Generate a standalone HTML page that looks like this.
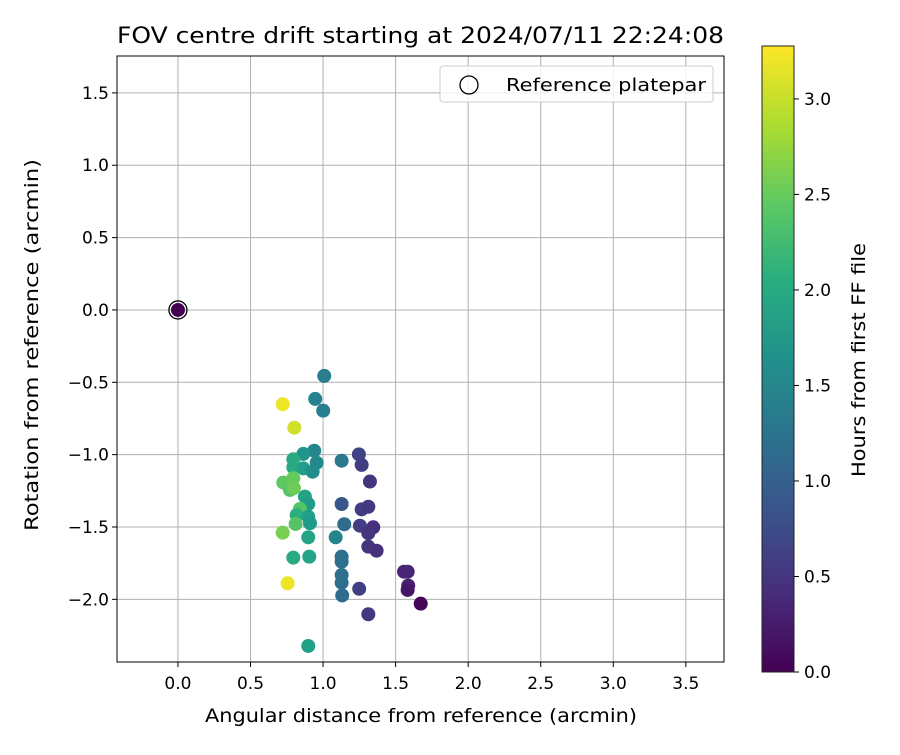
<!DOCTYPE html>
<html><head><meta charset="utf-8"><style>
body{margin:0;background:#fff;font-family:"Liberation Sans","DejaVu Sans",sans-serif}
text{font-family:"DejaVu Sans","Liberation Sans",sans-serif}
</style></head><body>
<svg id="chart" width="900" height="750" xmlns="http://www.w3.org/2000/svg">
<defs><linearGradient id="vir" x1="0" y1="1" x2="0" y2="0">
<stop offset="0" stop-color="#440154"/><stop offset="0.125" stop-color="#472d7b"/><stop offset="0.25" stop-color="#3b528b"/><stop offset="0.375" stop-color="#2c728e"/><stop offset="0.5" stop-color="#21918c"/><stop offset="0.625" stop-color="#28ae80"/><stop offset="0.75" stop-color="#5ec962"/><stop offset="0.875" stop-color="#addc30"/><stop offset="1" stop-color="#fde725"/>
</linearGradient></defs>
<g id="grid"></g>
<g id="pts"></g>
<g id="axes"></g>
</svg>
<script>
const xVals=[1.008,0.946,1.001,0.722,0.802,0.939,0.864,0.795,0.956,0.795,0.864,0.928,1.128,1.247,1.266,1.323,0.726,0.795,0.772,0.799,0.875,0.898,0.841,0.818,0.898,0.910,0.811,1.128,1.266,1.312,1.146,1.254,1.346,1.312,0.722,0.898,1.087,1.312,1.369,0.795,0.905,1.128,1.128,1.558,1.583,1.587,1.583,0.756,1.128,1.128,1.249,1.132,1.673,1.312,0.898];
const yVals=[-0.456,-0.615,-0.696,-0.652,-0.814,-0.973,-0.995,-1.032,-1.056,-1.088,-1.095,-1.118,-1.042,-0.998,-1.071,-1.186,-1.193,-1.163,-1.244,-1.230,-1.290,-1.341,-1.375,-1.417,-1.429,-1.474,-1.479,-1.341,-1.378,-1.360,-1.481,-1.491,-1.502,-1.543,-1.539,-1.571,-1.571,-1.636,-1.664,-1.712,-1.705,-1.705,-1.740,-1.809,-1.809,-1.905,-1.935,-1.889,-1.832,-1.885,-1.927,-1.973,-2.030,-2.103,-2.322];
const hours=[1.4,1.45,1.4,3.2,3.05,1.5,1.7,2.0,1.55,2.0,1.85,1.6,1.35,0.65,0.6,0.5,2.45,2.5,2.4,2.55,1.9,1.8,2.4,2.05,1.85,1.8,2.4,0.9,0.6,0.55,1.15,0.6,0.45,0.5,2.6,1.9,1.5,0.5,0.45,2.0,1.9,1.2,1.2,0.35,0.35,0.3,0.2,3.2,1.2,1.2,0.6,1.15,0.05,0.55,1.85];
const xTicks=[0,0.5,1,1.5,2,2.5,3,3.5];
const yTicks=[1.5,1,0.5,0,-0.5,-1,-1.5,-2];
const cTicks=[0,0.5,1,1.5,2,2.5,3];
const X0=117,X1=724,Y0=56,Y1=662,xmin=-0.42,xmax=3.763,ymin=-2.433,ymax=1.755;
const CB={x:762,w:32,top:46,bot:672,max:3.277};
const sx=v=>X0+(v-xmin)/(xmax-xmin)*(X1-X0);
const sy=v=>Y1-(v-ymin)/(ymax-ymin)*(Y1-Y0);
const cy=v=>CB.bot-v/CB.max*(CB.bot-CB.top);
const vir=[[68,1,84],[72,40,120],[62,74,137],[49,104,142],[38,130,142],[31,158,137],[53,183,121],[109,205,89],[180,222,44],[253,231,37]];
function cmap(h){let t=Math.max(0,Math.min(1,h/CB.max))*9;let i=Math.min(8,Math.floor(t)),f=t-i;
const c=vir[i].map((a,k)=>Math.round(a+(vir[i+1][k]-a)*f));return `rgb(${c})`;}
const NS='http://www.w3.org/2000/svg';
function el(p,tag,at,txt){const e=document.createElementNS(NS,tag);for(const k in at)e.setAttribute(k,at[k]);if(txt!==undefined)e.textContent=txt;p.appendChild(e);return e;}
const grid=document.getElementById('grid'),pts=document.getElementById('pts'),ax=document.getElementById('axes');
xTicks.forEach(v=>{const x=sx(v);
const g=el(grid,'line',{x1:x,x2:x,y1:Y0,y2:Y1,stroke:'#b0b0b0','stroke-width':1});

el(ax,'line',{x1:x,x2:x,y1:Y1,y2:Y1+5,stroke:'#000'});
const t=el(ax,'text',{x:x,y:Y1+27,'font-size':17,'text-anchor':'middle'},v.toFixed(1));
});
yTicks.forEach(v=>{const y=sy(v);
const g=el(grid,'line',{x1:X0,x2:X1,y1:y,y2:y,stroke:'#b0b0b0','stroke-width':1});

el(ax,'line',{x1:X0-5,x2:X0,y1:y,y2:y,stroke:'#000'});
const t=el(ax,'text',{x:X0-8,y:y+6,'font-size':17,'text-anchor':'end'},(v<0?'\u2212':'')+Math.abs(v).toFixed(1));
});
const rp=el(pts,'circle',{cx:sx(0),cy:sy(0),r:7,fill:cmap(0)});

const rr=el(pts,'circle',{cx:sx(0),cy:sy(0),r:9,fill:'none',stroke:'#000','stroke-width':1.3});

xVals.forEach((v,i)=>{const c=el(pts,'circle',{cx:sx(v),cy:sy(yVals[i]),r:7,fill:cmap(hours[i])});
});
const fr=el(ax,'rect',{x:X0,y:Y0,width:X1-X0,height:Y1-Y0,fill:'none',stroke:'#000','stroke-width':1});

const ti=el(ax,'text',{x:117,y:43,'font-size':22,textLength:607,lengthAdjust:'spacingAndGlyphs'},'FOV centre drift starting at 2024/07/11 22:24:08');

const xl=el(ax,'text',{x:205,y:722,'font-size':19,textLength:432,lengthAdjust:'spacingAndGlyphs'},'Angular distance from reference (arcmin)');

const yl=el(ax,'text',{x:0,y:0,'font-size':19,textLength:372,lengthAdjust:'spacingAndGlyphs',transform:'translate(38 531) rotate(-90)'},'Rotation from reference (arcmin)');

const lg=el(ax,'rect',{x:440,y:66,width:273,height:36,rx:3,fill:'#fff','fill-opacity':0.8,stroke:'#ccc'});

el(ax,'circle',{cx:469,cy:85,r:9,fill:'none',stroke:'#000','stroke-width':1.3});
const lt=el(ax,'text',{x:506,y:91,'font-size':18,textLength:200,lengthAdjust:'spacingAndGlyphs'},'Reference platepar');

const cb=el(ax,'rect',{x:CB.x,y:CB.top,width:CB.w,height:CB.bot-CB.top,fill:'url(#vir)',stroke:'#222','stroke-width':1});

cTicks.forEach(v=>{const y=cy(v);el(ax,'line',{x1:CB.x+CB.w,x2:CB.x+CB.w+5,y1:y,y2:y,stroke:'#000'});
const t=el(ax,'text',{x:CB.x+CB.w+10,y:y+6,'font-size':17},v.toFixed(1));
});
const cl=el(ax,'text',{x:0,y:0,'font-size':19,textLength:234,lengthAdjust:'spacingAndGlyphs',transform:'translate(865 477) rotate(-90)'},'Hours from first FF file');

</script>
</body></html>
